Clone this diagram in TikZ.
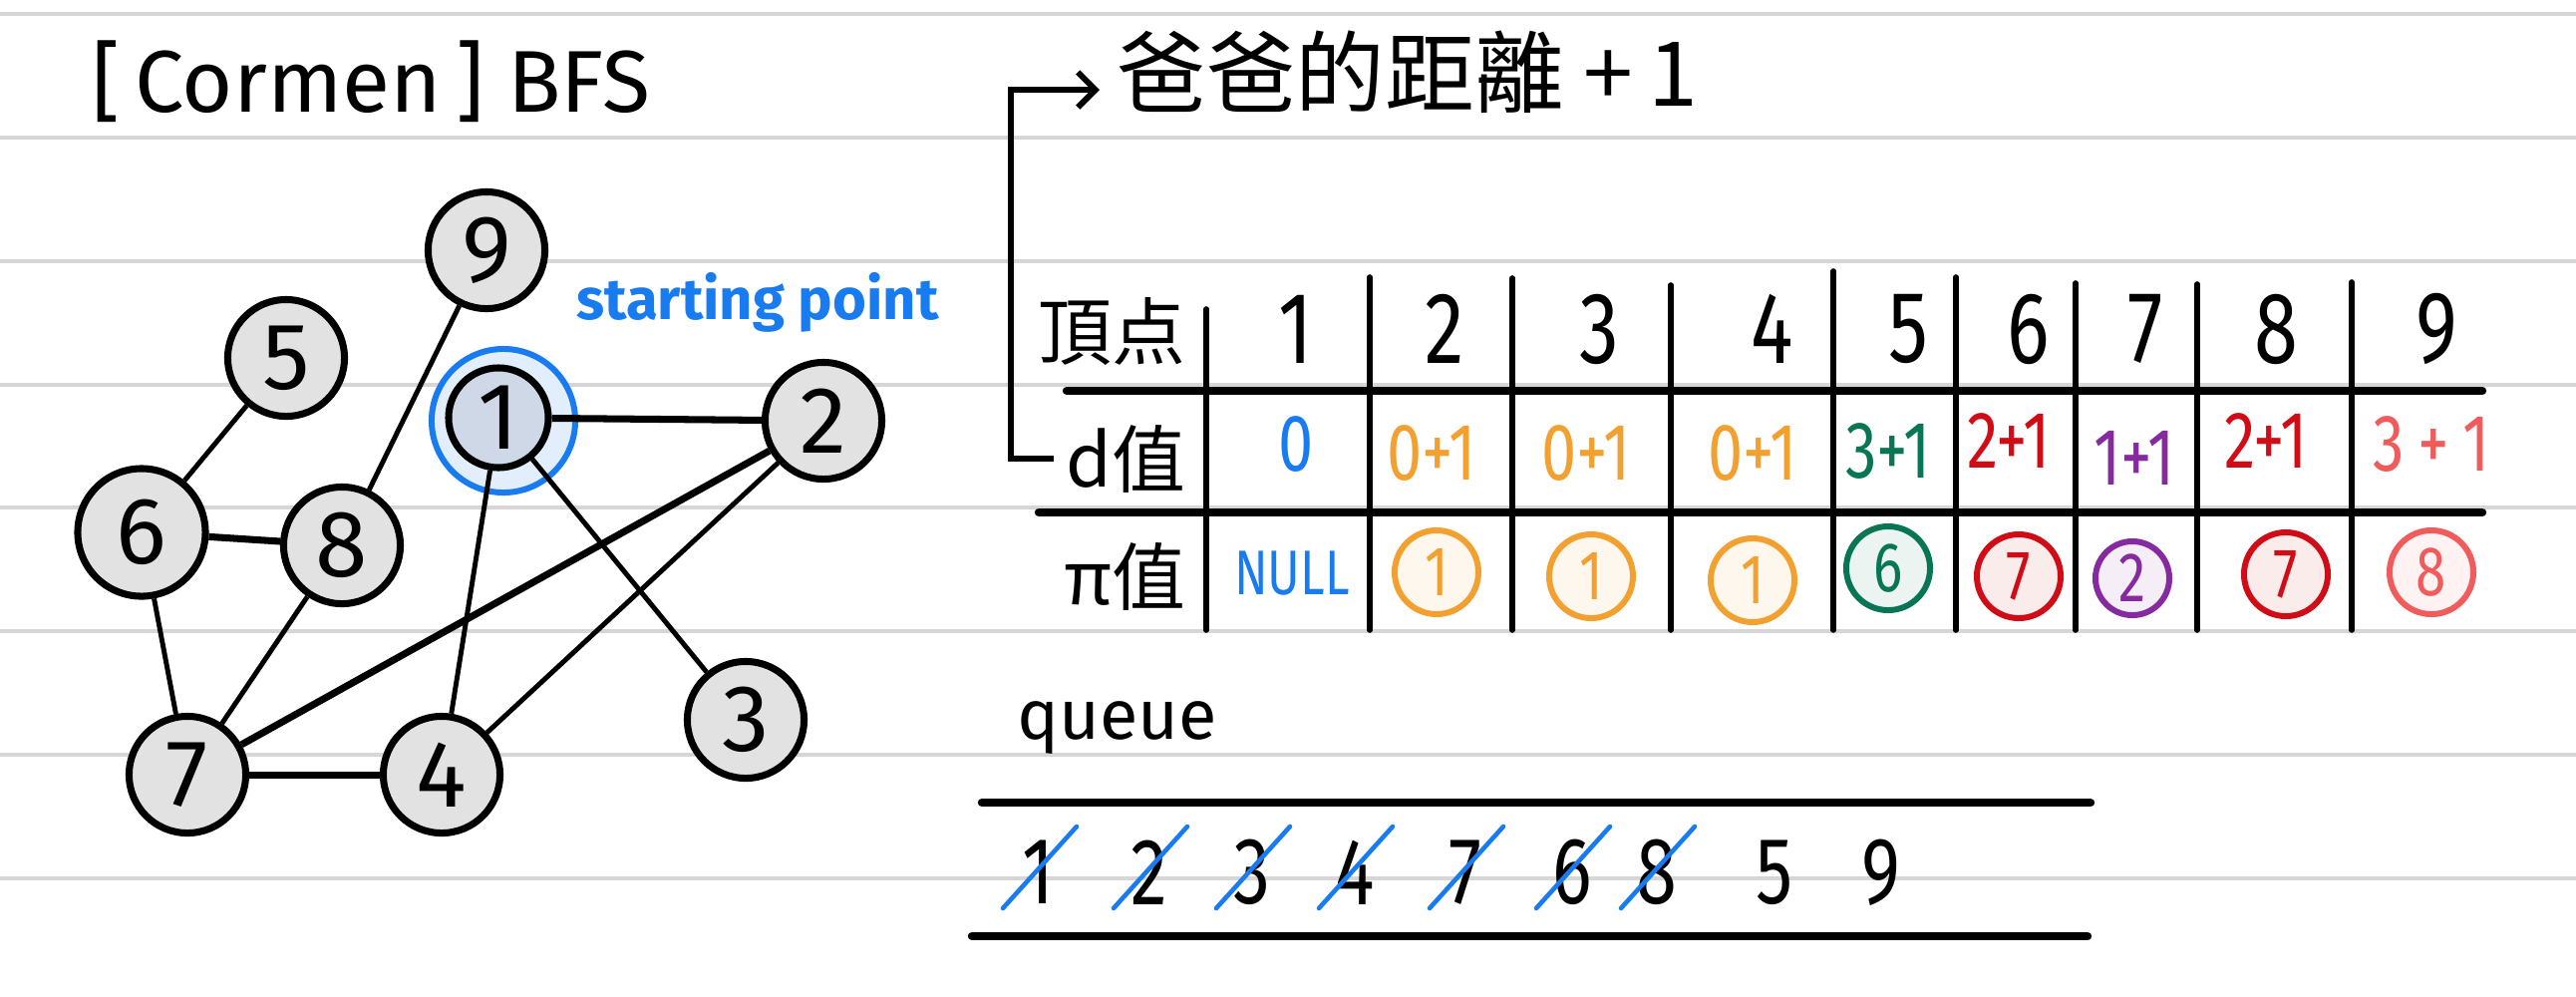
\documentclass[tikz,border=0pt]{standalone}
\usepackage{fontspec}
\setmainfont{Fira Sans}
\newfontfamily\cjk{Noto Sans CJK TC}
\newfontfamily\handnum[FakeStretch=0.78]{Fira Sans}
\usetikzlibrary{arrows.meta, positioning}
\definecolor{penblue}{RGB}{24,124,240}
\definecolor{penorange}{RGB}{242,160,48}
\definecolor{pengreen}{RGB}{8,118,84}
\definecolor{penred}{RGB}{208,12,22}
\definecolor{penpurple}{RGB}{134,42,160}
\definecolor{pensalmon}{RGB}{240,92,92}
\definecolor{vertexgray}{RGB}{226,226,226}
\definecolor{startfill}{RGB}{206,216,230}
\definecolor{ringfill}{RGB}{226,238,252}
\definecolor{ruleline}{RGB}{214,214,214}

\begin{document}
\begin{tikzpicture}[
  x=0.01cm, y=-0.01cm,
  ruled/.style     = {draw=ruleline, line width=1.1pt},
  vertex/.style    = {circle, draw=black, line width=2pt, fill=vertexgray, inner sep=0pt,
                      minimum size=1.17cm, font=\fontsize{27}{30}\selectfont},
  ring/.style      = {circle, draw=penblue, line width=1.7pt, fill=ringfill, inner sep=0pt,
                      minimum size=1.44cm},
  gedge/.style     = {line width=1.4pt},
  thickedge/.style = {line width=2pt},
  tline/.style     = {line width=1.6pt, line cap=round},
  thline/.style    = {line width=2.4pt, line cap=round},
  cellnum/.style   = {font=\handnum\fontsize{29}{32}\selectfont},
  dval/.style      = {font=\handnum\fontsize{23}{26}\selectfont},
  pcircle/.style   = {circle, draw=#1, fill=#1!8, line width=1.7pt, inner sep=0pt,
                      minimum size=0.84cm, text=#1, font=\handnum\fontsize{20}{23}\selectfont},
  rowhead/.style   = {font=\cjk\fontsize{21}{24}\selectfont, anchor=east, inner sep=0pt},
  qnum/.style      = {font=\handnum\fontsize{27}{30}\selectfont},
  strikeout/.style = {draw=penblue, line width=1.3pt, line cap=round},
  arrow/.style     = {-{Straight Barb[length=5pt, width=10pt]}, line width=1.7pt},
]

\useasboundingbox (0,0) rectangle (2584,999);
\fill[white] (0,0) rectangle (2584,999);

%% ==================== NOTEBOOK RULING ====================
\foreach \y in {14,138,262,386,509,633,757,881}
  \draw[ruled] (0,\y) -- (2584,\y);

%% ==================== GRAPH ====================
\node[font=\fontsize{25}{28}\selectfont, anchor=west] (title) at (80,82) {[\,Cormen\,] BFS};

\node[ring] (v1ring) at (505,422) {};
\node[vertex, fill=startfill, minimum size=1.0cm] (v1) at (500,419) {1};
\node[vertex] (v2) at (826,422) {2};
\node[vertex] (v3) at (748,722) {3};
\node[vertex] (v4) at (443,777) {4};
\node[vertex] (v5) at (287,359) {5};
\node[vertex, minimum size=1.28cm] (v6) at (142,534) {6};
\node[vertex] (v7) at (188,777) {7};
\node[vertex] (v8) at (343,547) {8};
\node[vertex] (v9) at (488,251) {9};

\node[font=\fontsize{16.5}{19}\selectfont\bfseries, text=penblue] (start) at (760,303) {starting point};

\draw[thickedge] (v1) -- (v2);
\draw[gedge] (v1) -- (v4);
\draw[gedge] (v1) -- (v3);
\draw[thickedge] (v7) -- (v2);
\draw[gedge] (v4) -- (v2);
\draw[thickedge] (v7) -- (v4);
\draw[gedge] (v5) -- (v6);
\draw[thickedge] (v6) -- (v8);
\draw[gedge] (v6) -- (v7);
\draw[gedge] (v8) -- (v7);
\draw[gedge] (v9) -- (v8);

%% ==================== TABLE ====================
\node[font=\cjk\fontsize{25.5}{28}\selectfont, anchor=west] (note) at (1108,72) {爸爸的距離 +\,1};

\node[rowhead] (thead) at (1190,332) {頂点};
\node[rowhead] (dhead) at (1190,460) {d值};
\node[rowhead] (phead) at (1190,578) {π值};

\draw[arrow] ([xshift=-0.12cm]dhead.west) -- ++(-43,0) |- ([xshift=-0.05cm, yshift=-0.18cm]note.west);

\foreach \x/\t in {1210/310, 1374/278, 1517/279, 1676/286, 1839/272, 1962/278, 2082/284, 2204/285, 2359/283}
  \draw[tline] (\x,\t) -- (\x,632);
\draw[thline] (1070,392) -- (2490,392);
\draw[thline] (1042,514) -- (2490,514);

\foreach \i/\x in {1/1300, 2/1449, 3/1604, 4/1778, 5/1914, 6/2035, 7/2152, 8/2283, 9/2444}
  \node[cellnum] (h\i) at (\x,330) {\i};

\foreach \i/\x/\y/\v/\c in {1/1300/446/0/penblue, 2/1436/455/0+1/penorange, 3/1591/455/0+1/penorange,
    4/1758/455/0+1/penorange, 5/1894/453/3+1/pengreen, 6/2015/442/2+1/penred,
    7/2141/459/1+1/penpurple, 8/2273/442/2+1/penred, 9/2439/446/3\,+\,1/pensalmon}
  \node[dval, text=\c] (d\i) at (\x,\y) {\v};

\node[font=\handnum\fontsize{18}{21}\selectfont, text=penblue] (p1) at (1296,575) {NULL};
\foreach \i/\x/\y/\v/\c in {2/1441/574/1/penorange, 3/1596/578/1/penorange, 4/1758/582/1/penorange,
    5/1894/570/6/pengreen, 6/2025/578/7/penred, 8/2293/576/7/penred, 9/2439/574/8/pensalmon}
  \node[pcircle=\c] (p\i) at (\x,\y) {\v};
\node[pcircle=penpurple, minimum size=0.74cm] (p7) at (2139,580) {2};

%% ==================== QUEUE ====================
\node[font=\fontsize{20}{24}\selectfont, anchor=west] (queue) at (1008,730) {queue};
\draw[thline] (985,805) -- (2097,805);
\draw[thline] (975,939) -- (2094,939);

\foreach \i/\x/\v in {1/1042/1, 2/1153/2, 3/1256/3, 4/1359/4, 5/1470/7, 6/1577/6, 7/1662/8, 8/1780/5, 9/1887/9}
  \node[qnum] (q\i) at (\x,875) {\v};
\foreach \i in {1,...,7}
  \draw[strikeout] ([shift={(-36,36)}]q\i.center) -- ([shift={(38,-46)}]q\i.center);

\end{tikzpicture}
\end{document}
